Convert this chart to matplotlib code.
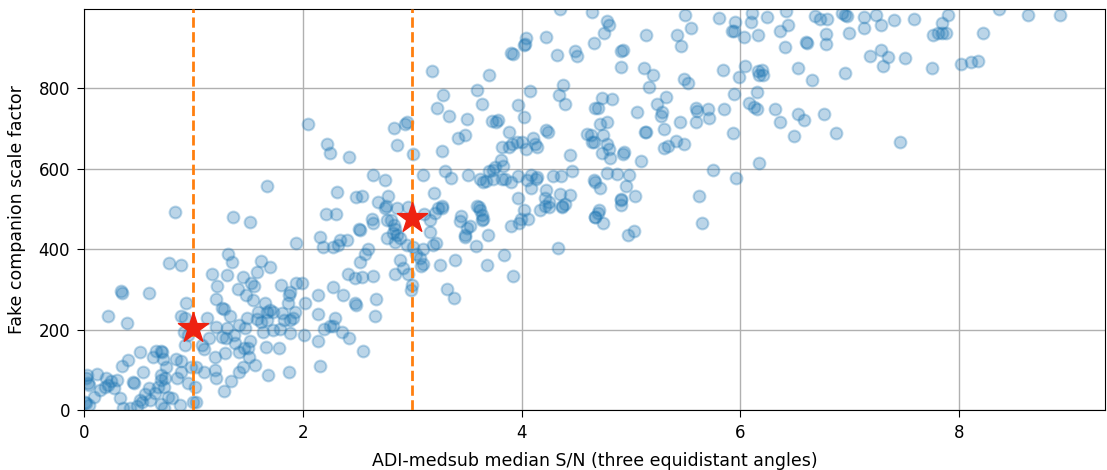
import matplotlib
matplotlib.use("Agg")
import matplotlib.pyplot as plt
import numpy as np

# ADI-medsub median S/N for each injected fake companion
snr = [
    # low S/N, low scale
    0.83, 1.36, 1.52, 2.21, 2.30, 1.94, 2.16, 2.18, 2.28, 1.32, 1.35, 0.78, 0.89, 1.62, 1.70,
    1.58, 1.17, 1.31, 1.45, 1.53, 1.55, 1.22, 1.41, 1.48, 1.54, 1.80, 1.94, 1.99, 1.88, 1.87,
    1.86, 2.02, 2.14, 2.28, 0.34, 0.35, 0.59, 1.21, 1.26, 1.28, 0.93, 1.65, 1.70, 1.59, 1.67,
    1.73, 1.33, 1.49, 1.58, 1.67, 1.62, 1.81, 1.83, 1.88, 1.91, 1.93, 0.22, 0.39, 0.89, 0.92,
    1.12, 2.14, 2.25, 2.28, 2.19, 1.21, 1.31, 1.42, 1.47, 1.64, 1.73, 1.79, 1.88, 2.01, 0.91,
    0.95, 1.14, 1.26, 1.30, 1.37, 1.38, 1.46, 1.50, 1.52, 0.92, 1.08, 1.10, 1.29, 1.42, 1.51,
    1.56, 1.66, 1.78, 2.14, 2.16, 1.20, 0.51, 0.66, 0.70, 0.71, 0.40, 0.35, 0.63, 0.72, 0.75,
    0.84, 0.89, 0.54, 0.70, 0.89, 1.02, 1.10, 1.20, 1.21, 1.42, 1.45, 1.34, 1.28, 1.68, 1.87,
    0.12, 0.02, 0.04, 0.05, 0.20, 0.25, 0.30, 0.22, 0.27, 0.19, 0.45, 0.46, 0.70, 0.74, 0.73,
    0.59, 0.68, 0.65, 0.85, 0.95, 1.01, 0.09, 0.33, 0.51, 0.53, 0.60, 0.70, 0.77, 0.88, 1.02,
    0.02, 0.05, 0.36, 0.42, 0.73, 0.03, 0.01, 0.15, 0.48, 0.56, 0.80, 1.00, 0.98,
    # mid S/N
    2.05, 2.22, 2.25, 1.67, 2.31,
    4.35, 4.64, 4.04, 4.02, 4.03, 4.22, 3.90, 3.92, 4.32, 4.49, 4.51, 4.66, 3.18, 3.70, 3.59,
    4.08, 4.38, 4.34, 4.40, 4.67, 3.28, 3.23, 3.34, 3.50, 3.64, 3.97, 4.02, 3.73, 3.78, 3.77,
    3.88, 2.83, 2.93, 2.95, 2.86, 3.01, 2.42, 3.27, 3.42, 3.48, 3.82, 3.88, 3.91, 3.96, 4.00,
    4.04, 4.10, 4.12, 4.14, 4.22, 4.24, 4.60, 4.64, 4.44, 4.46, 4.67, 3.81, 3.76, 3.83, 3.70,
    3.74, 3.62, 3.65, 3.67, 3.74, 3.82, 3.85, 3.90, 3.97, 4.05, 4.09, 4.14, 4.13, 4.29, 4.36,
    3.30, 3.35, 3.10, 3.51, 2.64, 2.75, 4.09, 4.22, 4.21, 4.25, 4.21, 4.35, 4.44, 4.40, 4.37,
    3.97, 2.49, 2.54, 2.69, 2.78, 3.20, 2.76, 3.27, 3.24, 3.59, 3.61, 2.96,
    2.63, 2.64, 2.51, 2.52, 2.77, 2.81, 2.83, 2.84, 2.82, 2.77, 2.86, 2.89, 2.84, 2.75, 2.86,
    3.11, 3.16, 3.21, 3.27, 3.16, 3.45, 3.44, 3.53, 3.50, 3.48, 3.48, 3.62, 3.64, 3.65, 3.64,
    3.69, 3.90, 3.99, 3.98, 4.02, 4.06, 4.17, 4.25, 4.37, 4.67, 2.34, 2.40, 2.32, 2.60, 2.57,
    2.52, 2.95, 3.01, 3.10, 3.19, 3.22, 2.89, 2.92, 2.96, 2.84, 3.07, 3.10, 3.08, 3.03, 3.25,
    3.39, 3.58, 3.68, 3.84, 3.92, 4.33, 2.41, 2.48, 2.54, 2.64, 3.00, 2.99, 3.32, 3.38, 2.37,
    2.48, 2.49, 2.67, 2.66, 2.29, 2.36, 2.42, 2.55,
    # high S/N
    4.78, 4.80, 4.75, 4.93, 4.91, 4.91, 5.14, 5.12, 5.20, 5.16, 5.42, 5.46, 5.49, 5.55, 5.80,
    5.95, 5.92, 5.94, 6.03, 6.11, 6.10, 6.24, 6.16, 6.42, 6.43, 6.36, 6.41, 6.60, 6.61, 6.68,
    6.73, 6.79, 6.78, 6.78, 6.93, 6.96, 5.84, 6.04, 5.99, 6.16, 6.20, 6.21, 6.17, 6.53, 6.65,
    6.96, 5.48, 5.52, 4.73, 4.83, 4.70, 5.32, 5.24, 5.28, 5.27, 5.05, 5.59, 5.60, 5.70, 5.71,
    5.85, 5.45, 5.59, 5.94, 6.15, 6.08, 6.12, 6.15, 6.32, 6.36, 6.53, 6.58, 6.76, 6.87, 6.49,
    5.93, 4.63, 4.66, 4.74, 4.72, 4.78, 4.78, 4.80, 4.73, 4.81, 4.93, 4.94, 5.13, 5.14, 5.30,
    5.30, 5.34, 5.41, 5.48, 5.09, 6.17, 5.75, 5.96, 4.78, 4.87, 4.98, 4.95, 5.04, 4.91, 4.91,
    4.66, 4.72, 5.62, 4.71, 4.70, 4.67, 4.74, 4.91, 4.97, 5.03, 5.65,
    6.97, 7.13, 7.13, 7.24, 7.28, 7.40, 7.59, 7.90, 7.84, 7.76, 7.81, 7.88, 7.84, 6.99, 7.18,
    7.28, 7.35, 7.30, 7.50, 7.75, 8.02, 8.11, 8.17, 8.22, 8.36, 8.63, 8.92, 7.46,
]

# Fake companion scale factor for each injection
scale = [
    491, 479, 468, 487, 487, 414, 429, 406, 404, 389, 368, 366, 360, 370, 356,
    344, 339, 335, 331, 315, 309, 309, 300, 287, 273, 311, 315, 315, 294, 286,
    267, 267, 287, 306, 296, 292, 290, 276, 253, 251, 267, 265, 248, 244, 244,
    244, 233, 228, 226, 224, 218, 240, 224, 224, 228, 244, 234, 215, 234, 228,
    228, 238, 209, 209, 201, 207, 205, 211, 205, 195, 199, 201, 192, 186, 195,
    186, 178, 182, 178, 186, 166, 153, 153, 171, 161, 161, 152, 141, 145, 132,
    113, 157, 155, 171, 110, 132, 145, 147, 147, 145, 124, 109, 132, 127, 106,
    127, 122, 95, 87, 95, 106, 95, 99, 79, 95, 106, 72, 47, 87, 94,
    89, 79, 66, 62, 79, 72, 75, 62, 54, 58, 70, 66, 75, 79, 58,
    54, 58, 41, 79, 66, 58, 33, 29, 25, 21, 25, 14, 33, 12, 19,
    17, 12, 6, 6, 6, 87, 20, 50, 10, 40, 30, 20, 107,
    712, 660, 640, 558, 542,
    996, 990, 925, 907, 910, 927, 887, 885, 883, 892, 879, 912, 843, 833, 796,
    792, 808, 782, 761, 750, 782, 750, 731, 723, 760, 757, 729, 719, 721, 717,
    692, 700, 711, 717, 658, 637, 629, 644, 677, 683, 654, 654, 662, 667, 667,
    648, 677, 662, 654, 696, 690, 687, 667, 633, 593, 567, 621, 604, 606, 594,
    596, 575, 567, 569, 575, 573, 575, 567, 582, 571, 583, 579, 575, 582, 581,
    594, 577, 583, 585, 585, 571, 552, 548, 527, 517, 508, 537, 535, 512, 508,
    527, 529, 533, 517, 533, 540, 508, 508, 502, 508, 504, 504,
    476, 464, 451, 447, 472, 472, 460, 451, 439, 428, 435, 427, 418, 501, 501,
    486, 472, 489, 501, 443, 483, 469, 458, 452, 435, 431, 497, 484, 476, 472,
    436, 458, 476, 464, 497, 476, 497, 505, 505, 480, 422, 422, 410, 401, 387,
    368, 410, 406, 401, 410, 414, 373, 354, 339, 339, 377, 364, 358, 389, 360,
    373, 408, 360, 385, 334, 402, 339, 329, 331, 334, 310, 298, 301, 279, 286,
    265, 262, 276, 233, 228, 193, 178, 147,
    967, 958, 937, 896, 892, 852, 933, 850, 832, 802, 932, 904, 983, 950, 975,
    965, 943, 942, 927, 987, 965, 977, 933, 992, 956, 942, 902, 915, 912, 979,
    971, 971, 935, 911, 987, 983, 846, 854, 827, 842, 846, 833, 833, 850, 821,
    837, 823, 814, 775, 773, 750, 777, 760, 740, 732, 742, 750, 743, 748, 727,
    748, 717, 715, 785, 790, 762, 754, 748, 748, 715, 736, 722, 736, 689, 682,
    689, 683, 667, 683, 712, 717, 660, 648, 640, 627, 637, 642, 692, 690, 698,
    652, 657, 668, 660, 618, 615, 596, 577, 589, 587, 583, 558, 533, 525, 522,
    571, 552, 531, 496, 489, 480, 466, 509, 436, 445, 464,
    979, 977, 950, 983, 958, 969, 971, 982, 961, 933, 937, 937, 937, 937, 881,
    894, 877, 854, 875, 850, 860, 865, 867, 936, 998, 983, 983, 665,
]

# Highlighted reference injections
ref_snr = [1.0, 3.0]
ref_scale = [205, 477]

plt.rcParams["font.family"] = ["DejaVu Sans"]
fig = plt.figure(figsize=(11.07, 4.70), dpi=100)
ax = fig.add_axes([0.0759, 0.1277, 0.9221, 0.8533])

ax.scatter(snr, scale, s=72, color="#1f77b4", alpha=0.3, linewidths=1.5, zorder=2)
for xv in ref_snr:
    ax.axvline(xv, color="#ff7f0e", linestyle="--", linewidth=2, zorder=3)
ax.scatter(ref_snr, ref_scale, marker="*", s=520, color="#ee2211", zorder=4)

ax.set_xlim(0, 9.33)
ax.set_ylim(0, 997)
ax.set_xticks([0, 2, 4, 6, 8])
ax.set_yticks([0, 200, 400, 600, 800])
ax.grid(True, color="#b0b0b0", linewidth=1.0, zorder=0)
ax.set_axisbelow(True)
ax.tick_params(labelsize=12, length=5, pad=5)
ax.set_xlabel("ADI-medsub median S/N (three equidistant angles)", fontsize=12.5, labelpad=7)
ax.set_ylabel("Fake companion scale factor", fontsize=12.5, labelpad=9)

fig.savefig("out.png", dpi=100)
